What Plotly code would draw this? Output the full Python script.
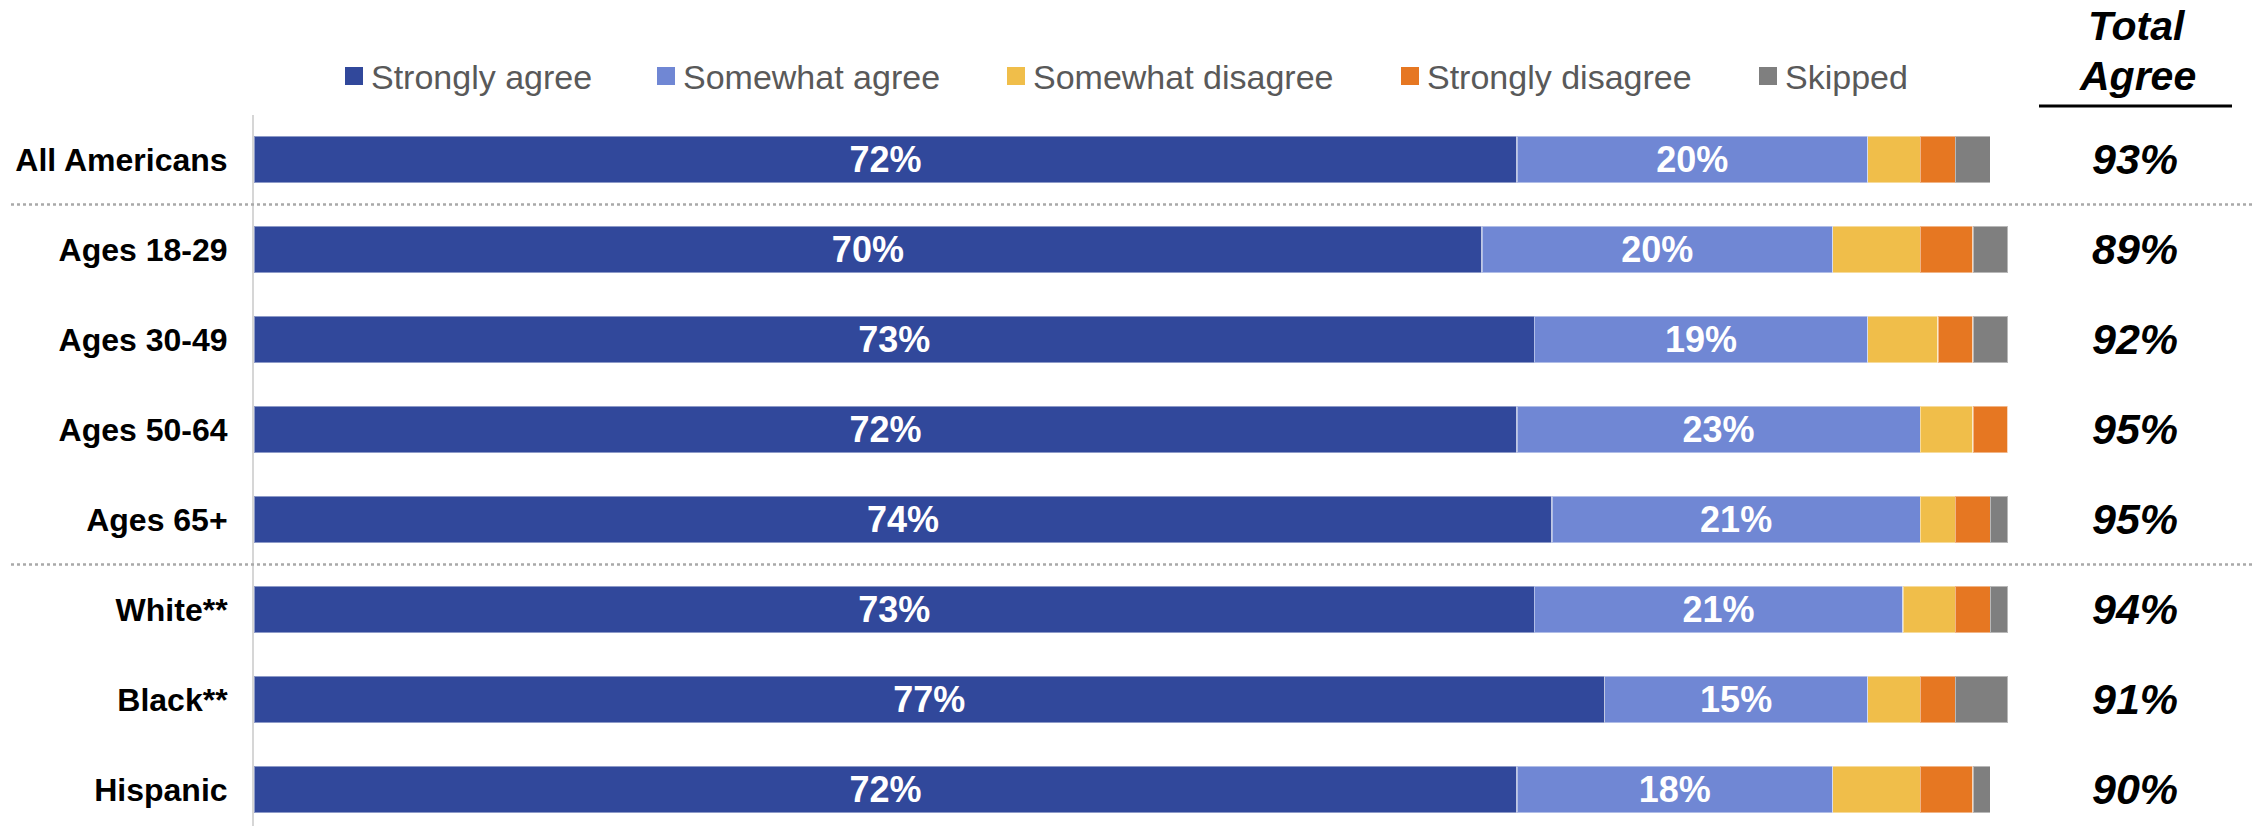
import plotly.graph_objects as go

# Survey groups (top to bottom)
groups = ["All Americans", "Ages 18-29", "Ages 30-49", "Ages 50-64",
          "Ages 65+", "White**", "Black**", "Hispanic"]

# Response shares, percent
strongly_agree = [72, 70, 73, 72, 74, 73, 77, 72]
somewhat_agree = [20, 20, 19, 23, 21, 21, 15, 18]
somewhat_disagree = [3, 5, 4, 3, 2, 3, 3, 5]
strongly_disagree = [2, 3, 2, 2, 2, 2, 2, 3]
skipped = [2, 2, 2, 0.2, 1, 1, 3, 1]

# Net agreement column
total_agree = [93, 89, 92, 95, 95, 94, 91, 90]

series_names = ["Strongly agree", "Somewhat agree", "Somewhat disagree",
                "Strongly disagree", "Skipped"]
series_values = [strongly_agree, somewhat_agree, somewhat_disagree,
                 strongly_disagree, skipped]
series_colors = ["#31489B", "#7087D4", "#F0BE4A", "#E67722", "#7F7F7F"]
labelled = [True, True, False, False, False]

FONT = "Liberation Sans, Arial, sans-serif"
W, H = 2254, 826
ML, MR, MT, MB = 254, 246, 115, 0
PW, PH = W - ML - MR, H - MT - MB


def px_x(px):
    """page pixel x -> paper x"""
    return (px - ML) / PW


def px_y(py):
    """page pixel y -> paper y"""
    return 1 + (MT - py) / PH


fig = go.Figure()
for name, vals, color, lab in zip(series_names, series_values, series_colors, labelled):
    fig.add_trace(go.Bar(
        y=groups, x=vals, orientation="h", name=name,
        marker=dict(color=color, line=dict(color="rgba(255,255,255,0.45)", width=1.5)),
        text=[f"{v:.0f}%" for v in vals] if lab else None,
        textposition="inside" if lab else "none",
        insidetextanchor="middle",
        constraintext="none",
        textfont=dict(family=FONT, size=36, color="white", weight="bold"),
        showlegend=False,
        hovertemplate="%{y}: %{x}%<extra>" + name + "</extra>",
    ))

annotations = []
shapes = []

# Total agree values
for g, t in zip(groups, total_agree):
    annotations.append(dict(
        x=px_x(2135), xref="paper", y=g, yref="y",
        text=f"<b><i>{t}%</i></b>", showarrow=False,
        xanchor="center", yanchor="middle",
        font=dict(family=FONT, size=43, color="black"),
    ))

# Column header with underline
for txt, cy in (("Total", 26), ("Agree", 76)):
    annotations.append(dict(
        x=px_x(2137), xref="paper", y=px_y(cy), yref="paper",
        text=f"<b><i>{txt}</i></b>", showarrow=False,
        xanchor="center", yanchor="middle",
        font=dict(family=FONT, size=41, color="black"),
    ))
shapes.append(dict(type="line", xref="paper", yref="paper",
                   x0=px_x(2039), x1=px_x(2232), y0=px_y(106), y1=px_y(106),
                   line=dict(color="black", width=3)))

# Legend row: swatch + label
legend_left = [345, 657, 1007, 1401, 1759]
for name, color, lx in zip(series_names, series_colors, legend_left):
    shapes.append(dict(type="rect", xref="paper", yref="paper",
                       x0=px_x(lx), x1=px_x(lx + 18), y0=px_y(85), y1=px_y(67),
                       fillcolor=color, line=dict(width=0)))
    annotations.append(dict(
        x=px_x(lx + 24), xref="paper", y=px_y(77), yref="paper",
        text=name, showarrow=False, xanchor="left", yanchor="middle",
        font=dict(family=FONT, size=34, color="#595959"),
    ))

# Dotted separators between group blocks
for yb in (0.5, 4.5):
    shapes.append(dict(type="line", xref="paper", yref="y",
                       x0=px_x(11), x1=px_x(W), y0=yb, y1=yb,
                       line=dict(color="#A9A9A9", width=2.5, dash="3px,3px")))

fig.update_layout(
    width=W, height=H,
    margin=dict(l=ML, r=MR, t=MT, b=MB, pad=0),
    barmode="stack", bargap=0.478,
    plot_bgcolor="white", paper_bgcolor="white",
    font=dict(family=FONT),
    xaxis=dict(range=[0, 100], visible=False, fixedrange=True),
    yaxis=dict(
        categoryorder="array", categoryarray=groups,
        range=[7.406, -0.494],
        showline=True, linecolor="#D6D6D6", linewidth=2,
        showgrid=False, zeroline=False,
        ticks="outside", ticklen=18, tickcolor="rgba(0,0,0,0)",
        tickfont=dict(family=FONT, size=32, color="black", weight="bold"),
        fixedrange=True,
    ),
    annotations=annotations,
    shapes=shapes,
    showlegend=False,
)

fig.write_html("out.html")
